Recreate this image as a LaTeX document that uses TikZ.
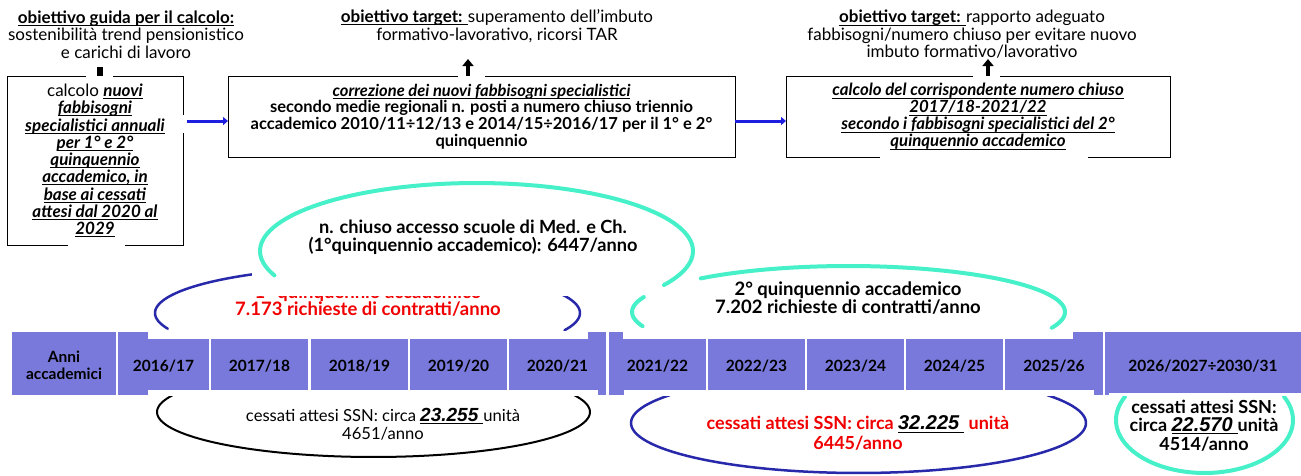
\documentclass[tikz,border=0pt]{standalone}
\usepackage{fontspec}
\setmainfont{Lato}
\newfontfamily\numfont{Liberation Sans}
\usetikzlibrary{arrows.meta}
\definecolor{cellc}{RGB}{121,121,220}
\definecolor{arrowblue}{RGB}{30,30,225}
\definecolor{ellblue}{RGB}{40,40,170}
\definecolor{ellcyan}{RGB}{70,240,200}
\definecolor{redtxt}{RGB}{240,0,0}
\newcommand{\myul}[1]{\setbox0\hbox{#1}\rlap{\rule[-2.6pt]{\wd0}{0.9pt}}\box0}
\newcommand{\biu}[1]{\myul{\textbf{\textit{#1}}}}
\newcommand{\numu}[1]{\myul{{\numfont\itshape\fontsize{20}{20}\selectfont #1}\kern5pt}}
\newcommand{\numub}[1]{\myul{{\numfont\bfseries\itshape\fontsize{19}{19}\selectfont #1}\kern5pt}}
\begin{document}
\begin{tikzpicture}[x=1pt,y=-1pt]
\tikzset{
  every node/.style={inner sep=0pt, outer sep=0pt},
  txt/.style={align=center, font=\fontsize{17}{17.5}\selectfont},
  boxtxt/.style={align=center, font=\fontsize{17}{17.25}\selectfont},
  box/.style={draw=black, line width=1pt, align=center},
  cell/.style={fill=cellc, minimum height=63},
  celltxt/.style={font=\bfseries\fontsize{15.5}{17}\selectfont, align=center},
  barrow/.style={draw=arrowblue, line width=3pt, -{Triangle[length=5pt,width=8pt]}},
  uparrow/.style={draw=black, line width=4pt, -{Triangle[length=7pt,width=11pt]}},
  stub/.style={draw=black, line width=6pt},
  gap/.style={fill=white},
  blueell/.style={draw=ellblue, line width=2.5pt, line cap=round},
  cyanell/.style={draw=ellcyan, line width=4pt, line cap=round},
  blackell/.style={draw=black, line width=2pt, line cap=round},
}
\useasboundingbox (0,0) rectangle (1301,475);
\fill[white] (0,0) rectangle (1301,475);

% ---------- top boxes ----------
\node[box, boxtxt, minimum width=176, minimum height=169] (lbox) at (95,160.5)
  {calcolo \biu{nuovi}\\ \biu{fabbisogni}\\ \biu{specialistici annuali}\\ \biu{per 1° e 2°}\\ \biu{quinquennio}\\ \biu{accademico, in}\\ \biu{base ai cessati}\\ \biu{attesi dal 2020 al}\\ \biu{2029}};
\node[box, boxtxt, font=\bfseries\fontsize{16.5}{16.8}\selectfont, minimum width=507, minimum height=81] (mbox) at (481.5,116.5)
  {\myul{\textit{correzione dei nuovi fabbisogni specialistici}}\\ secondo medie regionali n. posti a numero chiuso triennio\\ accademico 2010/11÷12/13 e 2014/15÷2016/17 per il 1° e 2°\\ quinquennio};
\node[box, boxtxt, font=\fontsize{16.8}{17}\selectfont, minimum width=384, minimum height=81] (rbox) at (978,116.5)
  {\biu{calcolo del corrispondente numero chiuso}\\ \biu{2017/18-2021/22}\\ \biu{secondo i fabbisogni specialistici del 2°}\\ \biu{quinquennio accademico}};

% gaps in borders
\fill[gap] (86,73) rectangle (113,79);
\fill[gap] (68,242) rectangle (125,248);
\fill[gap] (180,115) rectangle (186,133);
\fill[gap] (458,73) rectangle (485,79);
\fill[gap] (973,73) rectangle (1000,79);
\fill[gap] (880,154) rectangle (1088,160);

% objectives
\node[txt] (obj1) at (126,34.5) {\myul{\textbf{obiettivo guida per il calcolo:}}\\ sostenibilità trend pensionistico\\ e carichi di lavoro};
\node[txt] (obj2) at (497,26) {\myul{\textbf{obiettivo target: }}superamento dell’imbuto\\ formativo-lavorativo, ricorsi TAR};
\node[txt] (obj3) at (972,34.5) {\myul{\textbf{obiettivo target: }}rapporto adeguato\\ fabbisogni/numero chiuso per evitare nuovo\\ imbuto formativo/lavorativo};

% arrows
\coordinate (stubtop) at (100,67);
\draw[stub] (stubtop |- lbox.north) -- (stubtop);
\coordinate (mtip) at (468,59);
\draw[uparrow] (mtip |- mbox.north) -- (mtip);
\coordinate (rtip) at (988,59);
\draw[uparrow] (rtip |- rbox.north) -- (rtip);
\draw[barrow] ([xshift=4pt]lbox.east |- 0,121) -- (mbox.west |- 0,121);
\draw[barrow] (mbox.east |- 0,121) -- (rbox.west |- 0,121);

% ---------- upper ellipses ----------
\draw[blueell] plot[domain=160:237, samples=40] ({367.5+212.5*cos(\x)},{313+46*sin(\x)});
\draw[blueell] plot[domain=-26:22, samples=20] ({367.5+212.5*cos(\x)},{313+46*sin(\x)});
\node[txt, font=\bfseries\fontsize{18.5}{17}\selectfont, text=redtxt] (q1) at (368,300.5)
  {1° quinquennio accademico\\ 7.173 richieste di contratti/anno};
\fill[white] (252,200) rectangle (670,295.8);

\draw[cyanell] plot[domain=159:390, samples=90] ({476.5+216.5*cos(\x)},{251+68*sin(\x)});
\node[txt, font=\bfseries\fontsize{18.2}{18}\selectfont] (nc) at (473,237)
  {n. chiuso accesso scuole di Med. e Ch.\\ (1°quinquennio accademico): 6447/anno};

\draw[cyanell] plot[domain=162:199, samples=15] ({848.5+216.5*cos(\x)},{312+46*sin(\x)});
\draw[cyanell] plot[domain=227:380, samples=70] ({848.5+216.5*cos(\x)},{312+46*sin(\x)});
\node[txt, font=\bfseries\fontsize{18.5}{18}\selectfont] (q2) at (848,298)
  {2° quinquennio accademico\\ 7.202 richieste di contratti/anno};

% ---------- lower ellipses ----------
\draw[blackell] plot[domain=-25:205, samples=90] ({373.5+216.5*cos(\x)},{412+45*sin(\x)});
\node[txt, font=\fontsize{16.6}{18}\selectfont] (cs1) at (383,424)
  {cessati attesi SSN: circa \numub{23.255} unità\\ 4651/anno};
\draw[ellblue, line width=2.5pt, line cap=round] plot[domain=-34:214, samples=90] ({858.5+227.5*cos(\x)},{423+50*sin(\x)});
\node[txt, font=\bfseries\fontsize{18}{19.5}\selectfont, text=redtxt] (cs2) at (858,433)
  {cessati attesi SSN: circa {\color{black}\numu{32.225}} unità\\ 6445/anno};
\draw[cyanell] plot[domain=-26:206, samples=70] ({1204.5+88.5*cos(\x)},{420+53*sin(\x)});
\node[txt, font=\bfseries\fontsize{18}{18.5}\selectfont] (cs3) at (1204,425.5)
  {cessati attesi SSN:\\ circa \numu{22.570} unità\\ 4514/anno};

% ---------- timeline bar ----------
\node[cell, minimum width=104] (c0) at (64,363.5) {};
\node[cell, minimum width=91] (c1) at (163.5,363.5) {};
\node[cell, minimum width=97] (c2) at (259.5,363.5) {};
\node[cell, minimum width=97] (c3) at (359.5,363.5) {};
\node[cell, minimum width=97] (c4) at (458.5,363.5) {};
\node[cell, minimum width=97] (c5) at (557.5,363.5) {};
\node[cell, minimum width=97] (c6) at (657.5,363.5) {};
\node[cell, minimum width=97] (c7) at (756.5,363.5) {};
\node[cell, minimum width=97] (c8) at (855.5,363.5) {};
\node[cell, minimum width=97] (c9) at (954.5,363.5) {};
\node[cell, minimum width=98] (c10) at (1054,363.5) {};
\node[cell, minimum width=196] (c11) at (1203,363.5) {};
% white notches from the ellipse text boxes
\fill[gap] (148,331) rectangle (588,339);
\fill[gap] (623,331) rectangle (1073,339);
\fill[gap] (148,390) rectangle (598,396);
\fill[gap] (624,390) rectangle (1094,396);
\fill[gap] (1109,393) rectangle (1301,396);

\node[celltxt] (t0) at (64,365.5) {Anni\\accademici};
\node[celltxt] (t1) at (c1.center) [yshift=-3pt] {2016/17};
\node[celltxt] (t2) at (c2.center) [yshift=-3pt] {2017/18};
\node[celltxt] (t3) at (c3.center) [yshift=-3pt] {2018/19};
\node[celltxt] (t4) at (c4.center) [yshift=-3pt] {2019/20};
\node[celltxt] (t5) at (c5.center) [yshift=-3pt] {2020/21};
\node[celltxt] (t6) at (c6.center) [yshift=-3pt] {2021/22};
\node[celltxt] (t7) at (c7.center) [yshift=-3pt] {2022/23};
\node[celltxt] (t8) at (c8.center) [yshift=-3pt] {2023/24};
\node[celltxt] (t9) at (c9.center) [yshift=-3pt] {2024/25};
\node[celltxt] (t10) at (c10.center) [yshift=-3pt] {2025/26};
\node[celltxt] (t11) at (c11.center) [yshift=-3pt] {2026/2027÷2030/31};
\end{tikzpicture}
\end{document}
